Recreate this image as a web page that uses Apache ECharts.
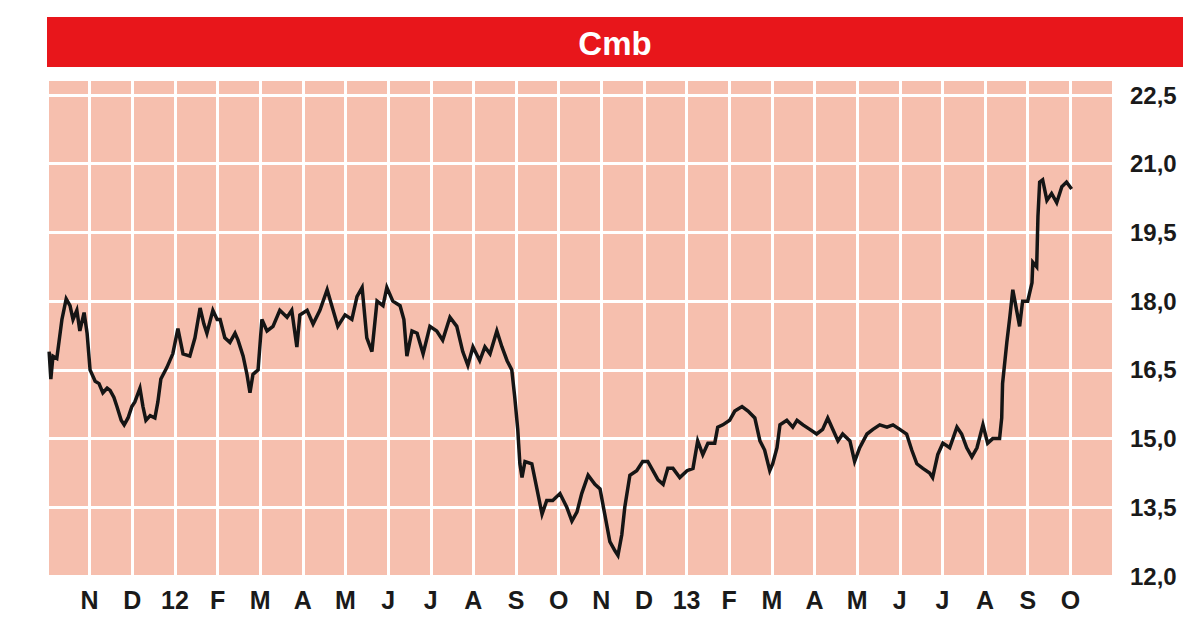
<!DOCTYPE html>
<html>
<head>
<meta charset="utf-8">
<script src="https://cdn.jsdelivr.net/npm/echarts@6/dist/echarts.min.js"></script>
<style>
html,body{margin:0;padding:0;background:#fff;}
#c{width:1200px;height:627px;}
</style>
</head>
<body>
<div id="c"></div>
<script>
// Month labels at each month boundary (index 0 = start of Oct 2011)
var monthLabels = ['', 'N', 'D', '12', 'F', 'M', 'A', 'M', 'J', 'J', 'A', 'S', 'O', 'N', 'D', '13', 'F', 'M', 'A', 'M', 'J', 'J', 'A', 'S', 'O', ''];
// Time in months since 1 Oct 2011
var monthPos = [0.05,0.09,0.14,0.23,0.35,0.45,0.54,0.61,0.70,0.77,0.87,0.94,1.01,1.13,1.22,1.31,1.41,1.48,1.57,1.64,1.74,1.81,1.90,1.99,2.06,2.18,2.25,2.32,2.42,2.53,2.60,2.67,2.81,2.95,3.07,3.19,3.35,3.47,3.59,3.68,3.75,3.89,3.99,4.06,4.17,4.29,4.41,4.48,4.60,4.69,4.76,4.83,4.95,5.04,5.16,5.30,5.46,5.63,5.74,5.86,5.93,6.10,6.24,6.40,6.57,6.71,6.82,6.99,7.15,7.27,7.39,7.50,7.62,7.74,7.88,7.97,8.11,8.28,8.37,8.44,8.56,8.68,8.82,8.98,9.14,9.28,9.45,9.61,9.75,9.87,9.99,10.15,10.27,10.39,10.55,10.67,10.79,10.90,10.97,11.04,11.09,11.14,11.21,11.37,11.49,11.61,11.72,11.86,12.03,12.19,12.31,12.43,12.54,12.69,12.85,12.97,13.08,13.20,13.32,13.39,13.48,13.55,13.67,13.83,13.97,14.09,14.21,14.33,14.45,14.56,14.68,14.84,15.01,15.15,15.26,15.38,15.50,15.66,15.73,15.85,16.01,16.13,16.30,16.44,16.60,16.72,16.83,16.95,17.02,17.12,17.19,17.35,17.49,17.59,17.73,17.89,18.05,18.19,18.31,18.43,18.55,18.66,18.83,18.94,19.06,19.23,19.37,19.53,19.70,19.84,20.00,20.16,20.28,20.40,20.54,20.70,20.77,20.89,21.01,21.17,21.34,21.45,21.57,21.69,21.81,21.95,22.06,22.18,22.34,22.39,22.41,22.51,22.58,22.65,22.74,22.81,22.88,23.00,23.10,23.12,23.21,23.24,23.28,23.35,23.45,23.56,23.68,23.80,23.91,24.03];
// Share price
var price = [16.9,16.3,16.8,16.75,17.6,18.05,17.9,17.6,17.8,17.35,17.75,17.3,16.5,16.25,16.2,16.0,16.1,16.05,15.9,15.7,15.4,15.3,15.45,15.7,15.8,16.1,15.7,15.4,15.5,15.45,15.8,16.3,16.55,16.85,17.4,16.85,16.8,17.2,17.85,17.5,17.3,17.8,17.6,17.6,17.2,17.1,17.3,17.15,16.8,16.4,16.0,16.4,16.5,17.6,17.35,17.45,17.8,17.65,17.8,17.0,17.7,17.8,17.5,17.8,18.25,17.8,17.45,17.7,17.6,18.1,18.3,17.2,16.9,18.0,17.9,18.3,18.0,17.9,17.6,16.8,17.35,17.3,16.85,17.45,17.35,17.15,17.65,17.45,16.9,16.6,17.0,16.7,17.0,16.85,17.35,17.0,16.7,16.5,15.9,15.2,14.45,14.15,14.5,14.45,13.9,13.35,13.65,13.65,13.8,13.5,13.2,13.4,13.8,14.2,14.0,13.9,13.35,12.75,12.55,12.45,12.9,13.5,14.2,14.3,14.5,14.5,14.3,14.1,14.0,14.35,14.35,14.15,14.3,14.35,14.95,14.65,14.9,14.9,15.25,15.3,15.4,15.6,15.7,15.6,15.45,14.95,14.75,14.3,14.45,14.8,15.3,15.4,15.25,15.4,15.3,15.2,15.1,15.2,15.45,15.2,14.95,15.1,14.95,14.5,14.8,15.1,15.2,15.3,15.25,15.3,15.2,15.1,14.75,14.45,14.35,14.25,14.15,14.65,14.9,14.8,15.25,15.1,14.8,14.6,14.8,15.3,14.9,15.0,15.0,15.45,16.2,17.1,17.65,18.25,17.8,17.45,18.0,18.0,18.4,18.85,18.75,19.85,20.6,20.65,20.2,20.35,20.15,20.5,20.6,20.45];
var yTicks = [12.0, 13.5, 15.0, 16.5, 18.0, 19.5, 21.0, 22.5];
var titleText = 'Cmb';

var seriesData = monthPos.map(function (m, i) { return [m, price[i]]; });

var chart = echarts.init(document.getElementById('c'), null, {renderer: 'svg'});
chart.setOption({
  animation: false,
  backgroundColor: '#ffffff',
  graphic: [
    {type: 'rect', left: 47, top: 17, shape: {width: 1136, height: 50}, style: {fill: '#e8161b'}, z: 10},
    {type: 'text', x: 615, y: 43, style: {text: titleText, fill: '#ffffff', font: 'bold 33px "Liberation Sans", Arial, sans-serif', align: 'center', verticalAlign: 'middle'}, z: 11}
  ],
  grid: {left: 47, right: 87, top: 79, bottom: 51, show: true, backgroundColor: '#f6bfae', borderWidth: 0},
  xAxis: {
    type: 'value', min: 0, max: 25, interval: 1,
    axisLine: {show: false}, axisTick: {show: false},
    splitLine: {show: true, lineStyle: {color: '#ffffff', width: 3}},
    axisLabel: {
      margin: 11, color: '#1a1a1a', fontSize: 25, fontWeight: 'bold', fontFamily: '"Liberation Sans", Arial, sans-serif',
      formatter: function (v) { var i = Math.round(v); return monthLabels[i] || ''; }
    }
  },
  yAxis: {
    type: 'value', position: 'right', min: 12, max: 22.85, interval: 1.5,
    axisLine: {show: false}, axisTick: {show: false},
    splitLine: {show: true, lineStyle: {color: '#ffffff', width: 3}},
    axisLabel: {
      margin: 17, color: '#1a1a1a', fontSize: 24, fontWeight: 'bold', fontFamily: '"Liberation Sans", Arial, sans-serif',
      formatter: function (v) {
        for (var i = 0; i < yTicks.length; i++) {
          if (Math.abs(yTicks[i] - v) < 0.001) return yTicks[i].toFixed(1).replace('.', ',');
        }
        return '';
      }
    }
  },
  series: [{
    type: 'line', data: seriesData, showSymbol: false, symbol: 'none',
    lineStyle: {color: '#151515', width: 3.5, join: 'miter'}, z: 5
  }]
});
</script>
</body>
</html>
